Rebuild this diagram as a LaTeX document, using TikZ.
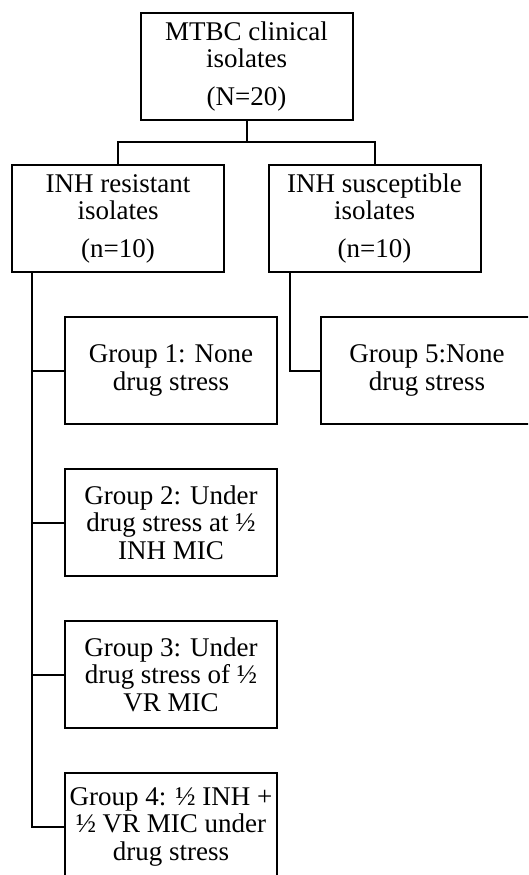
\documentclass[tikz,border=0pt]{standalone}
\usepackage{fontspec}
\setmainfont{Liberation Serif}
\begin{document}
\begin{tikzpicture}[x=1pt,y=-1pt,
  box/.style={draw=black,line width=2pt,minimum width=212pt,minimum height=107pt,
    align=center,inner sep=1pt,font=\fontsize{27}{27.5}\selectfont},
  conn/.style={draw=black,line width=2pt}]
\useasboundingbox (0,0) rectangle (528,875);
\fill[white] (0,0) rectangle (528,875);
\clip (0,0) rectangle (528,875);
\node[box] (top) at (246.5,66.5) {MTBC clinical\\isolates\\[10pt](N=20)};
\node[box] (l) at (118,218.5) {INH resistant\\isolates\\[10pt](n=10)};
\node[box] (r) at (374.5,218.5) {INH susceptible\\isolates\\[10pt](n=10)};
\node[box] (g1) at (171,370.5) {Group 1: None\\drug stress};
\node[box] (g2) at (171,522.5) {Group 2: Under\\drug stress at ½\\INH MIC};
\node[box] (g3) at (171,674.5) {Group 3: Under\\drug stress of ½\\VR MIC};
\node[box] (g4) at (171,826.5) {Group 4: ½ INH +\\½ VR MIC under\\drug stress};
\node[box] (g5) at (427,370.5) {Group 5:None\\drug stress};
\coordinate (j) at (246.5,142);
\coordinate (ls) at ([xshift=21pt]l.south west);
\coordinate (rs) at ([xshift=22pt]r.south west);
\draw[conn] (top.south) -- (j);
\draw[conn] (l.north) |- (j) -| (r.north);
\draw[conn] (ls) |- (g1.west);
\draw[conn] (ls) |- (g2.west);
\draw[conn] (ls) |- (g3.west);
\draw[conn] (ls) |- (g4.west);
\draw[conn] (rs) |- (g5.west);
\end{tikzpicture}
\end{document}
